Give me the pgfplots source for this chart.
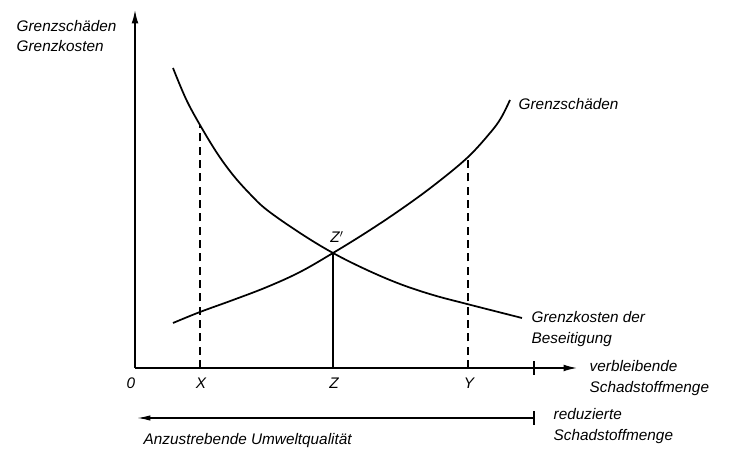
\documentclass[border=0pt]{standalone}
\usepackage{fontspec}
\setmainfont{Liberation Sans}
\usepackage{pgfplots}
\pgfplotsset{compat=1.18}
\usetikzlibrary{arrows.meta}
\begin{document}
\begin{tikzpicture}[font=\fontsize{11.5}{15.5}\selectfont\itshape]
\useasboundingbox (-135*0.75pt,-85*0.75pt) rectangle (598*0.75pt,368*0.75pt);
\begin{axis}[
  at={(0,0)}, anchor=origin,
  x=0.75pt, y=0.75pt,
  xmin=0, xmax=442, ymin=0, ymax=358,
  axis lines=left,
  axis line style={line width=1pt, -{Latex[length=10pt,width=5pt]}},
  xtick=\empty, ytick=\empty,
  clip=false,
]
% Grenzkosten der Beseitigung (decreasing)
\addplot[black, line width=1.3pt, smooth, tension=0.6] coordinates {
 (38,300) (51,269) (65,243) (82,215) (98,193) (115,174) (132,158) (165,135) (198,115)
 (232,98) (265,84) (298,73) (332,64) (387,50)};
% Grenzschaeden (increasing)
\addplot[black, line width=1.3pt, smooth, tension=0.6] coordinates {
 (38,45) (65,56) (98,68) (132,81) (165,96) (198,115)
 (232,136) (265,158) (298,182) (332,210) (355,235) (366,250) (375,268)};
% vertical lines
\addplot[black, line width=0.8pt, dash pattern=on 6pt off 4pt] coordinates {(65,0) (65,243)};
\addplot[black, line width=0.8pt] coordinates {(198,0) (198,115)};
\addplot[black, line width=0.8pt, dash pattern=on 6pt off 4pt] coordinates {(333,0) (333,211)};
\addplot[black, line width=0.9pt] coordinates {(399,-7) (399,7)};
% lower line
\addplot[black, line width=1pt, {Latex[length=10pt,width=4pt]}-] coordinates {(2,-50) (399,-50)};
\addplot[black, line width=0.9pt] coordinates {(399,-57) (399,-43)};
% labels
\node[anchor=west, align=left] at (axis cs:-123,332) {Grenzschäden\\Grenzkosten};
\node at (axis cs:-4,-15) {0};
\node at (axis cs:66,-15) {X};
\node at (axis cs:199,-15) {Z};
\node at (axis cs:334,-15) {Y};
\node at (axis cs:202,131) {Z$'$};
\node[anchor=west] at (axis cs:379,264) {Grenzschäden};
\node[anchor=west, align=left] at (axis cs:392,39) {Grenzkosten der\\Beseitigung};
\node[anchor=west, align=left] at (axis cs:450,-10) {verbleibende\\Schadstoffmenge};
\node[anchor=west, align=left] at (axis cs:414,-58) {reduzierte\\Schadstoffmenge};
\node[anchor=west] at (axis cs:4,-73) {Anzustrebende Umweltqualität};
\end{axis}
\end{tikzpicture}
\end{document}
